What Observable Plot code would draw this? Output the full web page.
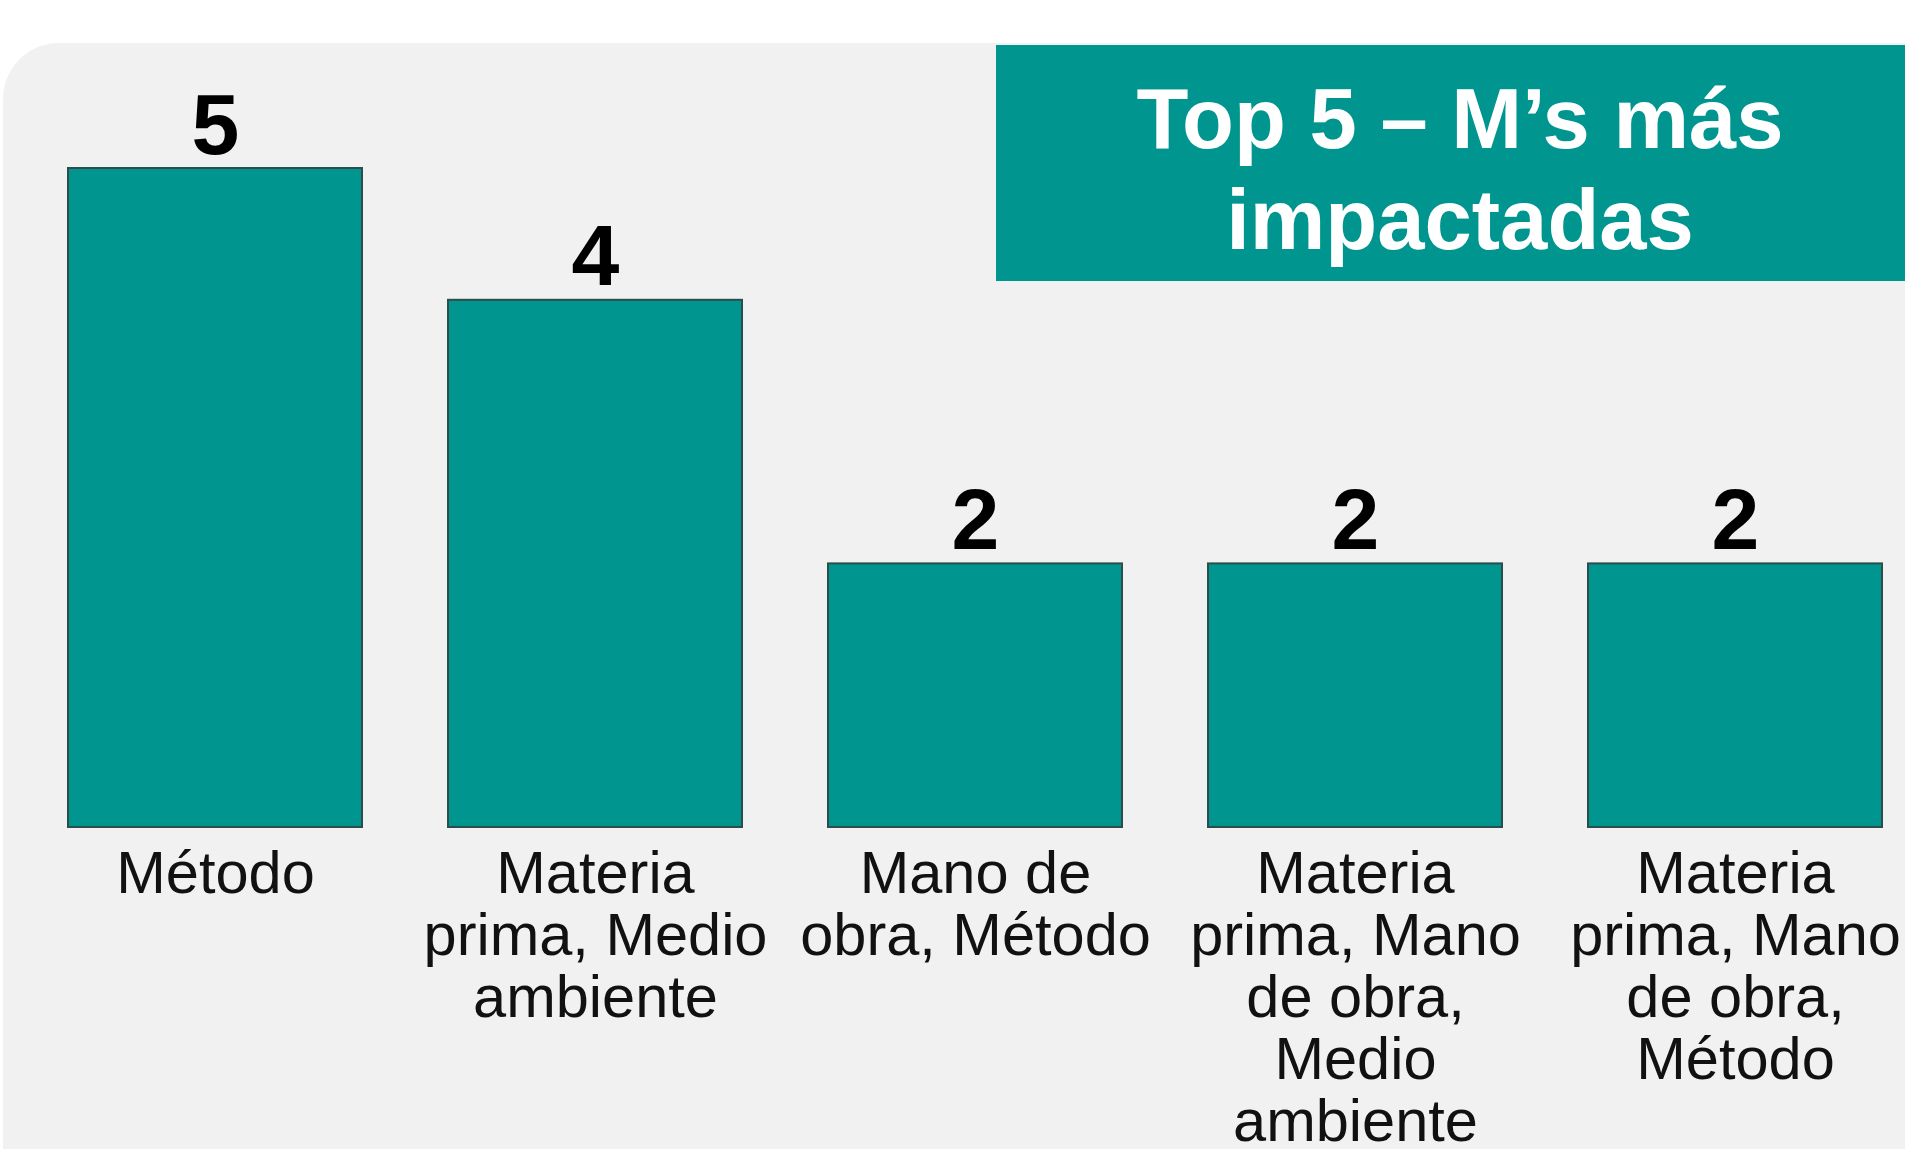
<!DOCTYPE html>
<html>
<head>
<meta charset="utf-8">
<script src="https://cdn.jsdelivr.net/npm/d3@7"></script>
<script src="https://cdn.jsdelivr.net/npm/@observablehq/plot@0.6"></script>
<style>
  html, body { margin: 0; padding: 0; background: #ffffff; width: 1905px; height: 1149px; overflow: hidden; }
  #panel { position: absolute; left: 3px; top: 43px; width: 1960px; height: 1200px; background: #f1f1f1; border-top-left-radius: 56px; }
  #chart { position: absolute; left: 0; top: 0; width: 1930px; }
  #chart svg { max-width: none !important; }
  #title { position: absolute; left: 996px; top: 45px; width: 928px; height: 236px; background: #00968f;
           color: #ffffff; font-family: "Liberation Sans", Arial, sans-serif; font-weight: bold; font-size: 85px;
           line-height: 101px; text-align: center; box-sizing: border-box; padding-top: 23px; }
</style>
</head>
<body>
<div id="panel"></div>
<div id="chart"></div>
<div id="title">Top 5 – M’s más<br>impactadas</div>
<script>
const categories = [
  "Método",
  "Materia\nprima, Medio\nambiente",
  "Mano de\nobra, Método",
  "Materia\nprima, Mano\nde obra,\nMedio\nambiente",
  "Materia\nprima, Mano\nde obra,\nMétodo"
];
const counts = [5, 4, 2, 2, 2];

const data = categories.map((c, i) => ({cat: c, value: counts[i]}));

const chart = Plot.plot({
  width: 1930,
  height: 1149,
  marginLeft: 24,
  marginRight: 4,
  marginTop: 168,
  marginBottom: 322,
  style: {background: "transparent", fontFamily: "'Liberation Sans', Arial, sans-serif", color: "#000", maxWidth: "none"},
  x: {domain: categories, paddingInner: 0.227, paddingOuter: 0.1135, label: null},
  y: {domain: [0, 5], label: null, axis: null},
  marks: [
    Plot.barY(data, {x: "cat", y: "value", fill: "#00968f", stroke: "#2c4d4b", strokeWidth: 2}),
    Plot.text(data, {x: "cat", y: "value", text: d => String(d.value), lineAnchor: "bottom", dy: -15,
                     fontSize: 86, fontWeight: "bold", fill: "#000"}),
    Plot.axisX({tickSize: 0, tickPadding: 22, fontSize: 59.5, lineHeight: 1.04, label: null, fill: "#111"})
  ]
});
chart.style.maxWidth = "none";
document.getElementById("chart").appendChild(chart);
</script>
</body>
</html>
